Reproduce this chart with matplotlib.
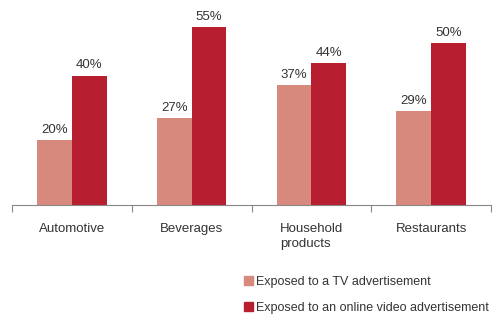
import numpy as np
import matplotlib.pyplot as plt
from matplotlib.patches import Patch

categories = ['Automotive', 'Beverages', 'Household\nproducts', 'Restaurants']
tv_values = [20, 27, 37, 29]
online_values = [40, 55, 44, 50]
series_names = ['Exposed to a TV advertisement',
                'Exposed to an online video advertisement']

light = '#d8897e'
dark = '#b71f31'
text_col = '#333333'

plt.rcParams['font.family'] = ['Liberation Sans', 'DejaVu Sans']

fig = plt.figure(figsize=(4.98, 3.27), dpi=100)
ax = fig.add_axes([12 / 498, 1 - 205 / 327, 479 / 498, 194 / 327])

x = np.arange(len(categories))
w = 0.29
b1 = ax.bar(x - w / 2, tv_values, w, color=light)
b2 = ax.bar(x + w / 2, online_values, w, color=dark)

for bars in (b1, b2):
    for rect in bars:
        h = rect.get_height()
        ax.annotate('{}%'.format(int(h)), (rect.get_x() + rect.get_width() / 2, h),
                    xytext=(0, 3), textcoords='offset points', ha='center', va='bottom',
                    fontsize=9.5, color=text_col)

ax.set_xlim(-0.5, 3.5)
ax.set_ylim(0, 60)
for s in ['top', 'right', 'left']:
    ax.spines[s].set_visible(False)
ax.spines['bottom'].set_color('#888888')
ax.spines['bottom'].set_linewidth(0.8)
ax.set_yticks([])

ax.set_xticks(np.arange(-0.5, 4, 1))
ax.set_xticklabels([])
ax.tick_params(axis='x', length=5, color='#888888', width=0.8)
ax.set_xticks(x, minor=True)
ax.set_xticklabels(categories, minor=True, fontsize=9.5, color=text_col,
                   va='top', linespacing=1.35, multialignment='left')
ax.tick_params(axis='x', which='minor', length=0, pad=13)

handles = [Patch(color=light), Patch(color=dark)]
fig.legend(handles, series_names, loc='upper left', bbox_to_anchor=(244 / 498, 1 - 276 / 327),
           frameon=False, fontsize=9.0, handlelength=0.7, handleheight=0.7,
           handletextpad=0.3, labelspacing=1.1, borderaxespad=0, borderpad=0,
           labelcolor=text_col)

fig.savefig('out.png', dpi=100)
